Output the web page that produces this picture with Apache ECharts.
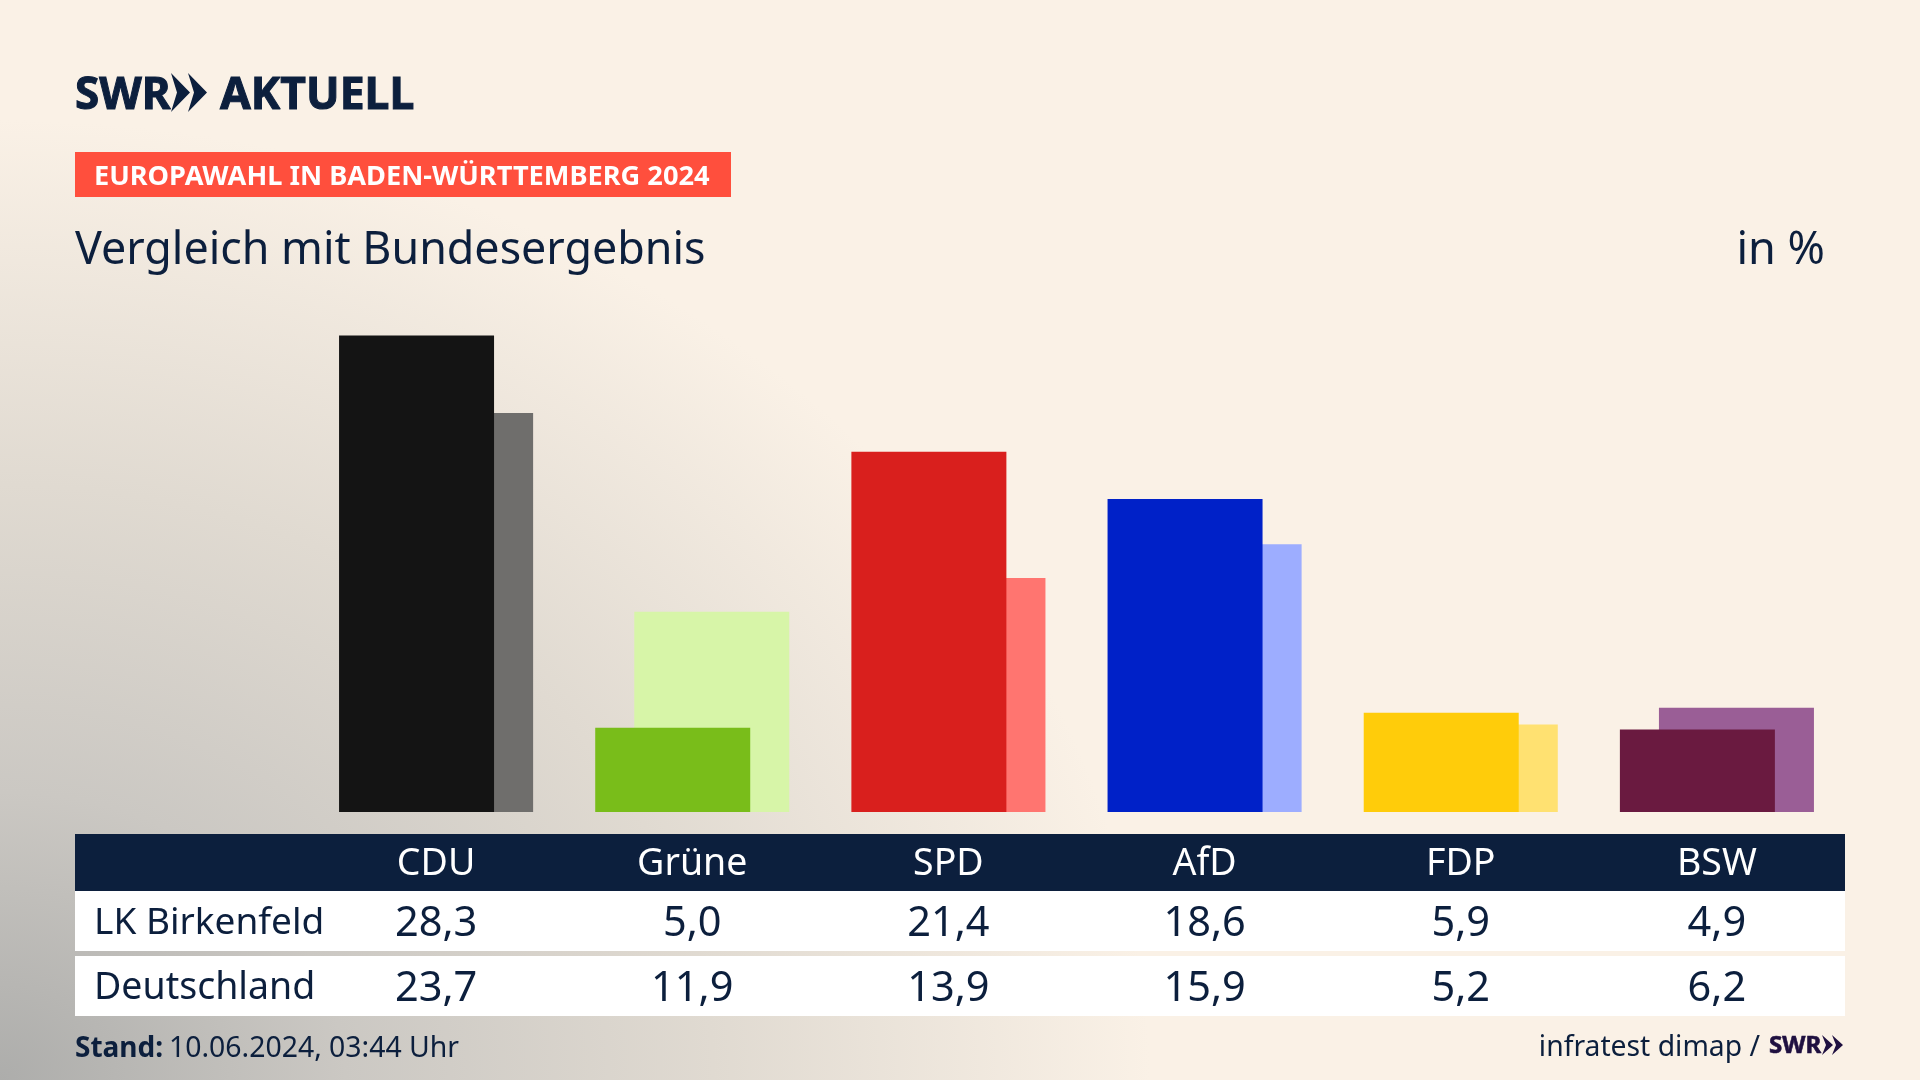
<!DOCTYPE html>
<html>
<head>
<meta charset="utf-8">
<title>Europawahl Baden-Württemberg 2024</title>
<script src="https://cdn.jsdelivr.net/npm/echarts@6/dist/echarts.min.js"></script>
<style>
  html, body { margin: 0; padding: 0; width: 100%; height: 100%; overflow: hidden; }
  body { background: radial-gradient(ellipse 1150px 960px at 0 1080px, #adadab 0%, #cbc8c3 30%, #e0dad1 62%, #faf1e6 100%), #faf1e6; }
  #grafico { width: 1920px; height: 1080px; }
</style>
</head>
<body>
<div id="grafico"></div>
<script>
// Datos
var partidos = ["CDU", "Grüne", "SPD", "AfD", "FDP", "BSW"];
var birkenfeld = [28.3, 5.0, 21.4, 18.6, 5.9, 4.9];
var deutschland = [23.7, 11.9, 13.9, 15.9, 5.2, 6.2];

var coloresFuertes = ["#141414", "#79bd1a", "#d91f1d", "#0021c8", "#ffcc0a", "#6a1a40"];
var coloresClaros = ["#6f6e6c", "#d7f5a8", "#ff7570", "#9dadff", "#ffe171", "#9a5e96"];

var azul = "#0c1f3d";
var fuente = "'Noto Sans', sans-serif";

function conComa(v) {
  return v.toFixed(1).replace(".", ",");
}

// Eje de categorias: cabecera y las dos filas de la tabla son ejes con margen propio
function ejeX(datos, margen, color, size) {
  return {
    type: "category",
    position: "bottom",
    data: datos,
    axisLine: { show: false },
    axisTick: { show: false },
    axisLabel: {
      interval: 0,
      margin: margen,
      color: color,
      fontFamily: fuente,
      fontSize: size,
      verticalAlign: "middle",
    },
  };
}

function texto(x, y, str, size, extra) {
  extra = extra || {};
  var style = {
    x: x,
    y: y,
    text: str,
    fill: extra.fill || azul,
    font: (extra.weight ? extra.weight + " " : "") + size + "px " + fuente,
    textAlign: extra.align || "left",
    textVerticalAlign: "middle",
  };
  if (extra.grueso) {
    style.stroke = style.fill;
    style.lineWidth = extra.grueso;
  }
  return { type: "text", z: 10, style: style };
}

function fondo(x, y, w, h, color) {
  return { type: "rect", z: -1, shape: { x: x, y: y, width: w, height: h }, style: { fill: color } };
}

// Flechas del logo SWR
function flecha(x, y, w, h, t, color) {
  return {
    type: "polygon",
    z: 10,
    shape: { points: [[x, y], [x + w, y + h / 2], [x, y + h], [x + t, y + h / 2]] },
    style: { fill: color },
  };
}

var myChart = echarts.init(document.getElementById("grafico"), null, { renderer: "canvas" });

var option = {
  animation: false,
  grid: { left: 308, right: 75, top: 307, bottom: 268 },
  xAxis: [
    ejeX(partidos, 52, "#ffffff", 37.5),
    ejeX(birkenfeld.map(conComa), 112, azul, 41.5),
    ejeX(deutschland.map(conComa), 177, azul, 41.5),
  ],
  yAxis: { type: "value", min: 0, max: 30, show: false },
  series: [
    {
      name: "LK Birkenfeld",
      type: "bar",
      z: 3,
      barWidth: 155,
      barGap: "-74.8%",
      data: birkenfeld.map(function (v, i) {
        return { value: v, itemStyle: { color: coloresFuertes[i] } };
      }),
    },
    {
      name: "Deutschland",
      type: "bar",
      z: 2,
      barWidth: 155,
      data: deutschland.map(function (v, i) {
        return { value: v, itemStyle: { color: coloresClaros[i] } };
      }),
    },
  ],
  graphic: [
    // Logo
    texto(75, 96, "SWR", 44, { weight: "bold", grueso: 1 }),
    flecha(171, 73, 19, 39, 6, azul),
    flecha(188, 73, 19, 39, 6, azul),
    texto(220, 96, "AKTUELL", 44.5, { weight: "bold", grueso: 1 }),
    // Banner y titulo
    { type: "rect", z: 1, shape: { x: 75, y: 152, width: 656, height: 45 }, style: { fill: "#ff4f3d" } },
    texto(94, 177, "EUROPAWAHL IN BADEN-WÜRTTEMBERG 2024", 27.2, { weight: "bold", fill: "#ffffff" }),
    texto(75, 251, "Vergleich mit Bundesergebnis", 44.8),
    texto(1825, 251, "in %", 45, { align: "right" }),
    // Tabla
    fondo(75, 834, 1770, 57, "#0c1f3d"),
    fondo(75, 891, 1770, 60, "#ffffff"),
    fondo(75, 956, 1770, 60, "#ffffff"),
    texto(94, 923, "LK Birkenfeld", 37),
    texto(94, 988, "Deutschland", 37.5),
    // Pie
    texto(75, 1049, "Stand:", 28, { weight: "bold" }),
    texto(169, 1049, "10.06.2024, 03:44 Uhr", 28.4),
    texto(1760, 1048, "infratest dimap /", 28.3, { align: "right" }),
    texto(1769, 1046, "SWR", 24, { weight: "bold", fill: "#1f1040", grueso: 0.6 }),
    flecha(1822, 1035, 11, 20, 4, "#1f1040"),
    flecha(1832, 1035, 11, 20, 4, "#1f1040"),
  ],
};

myChart.setOption(option);
</script>
</body>
</html>
